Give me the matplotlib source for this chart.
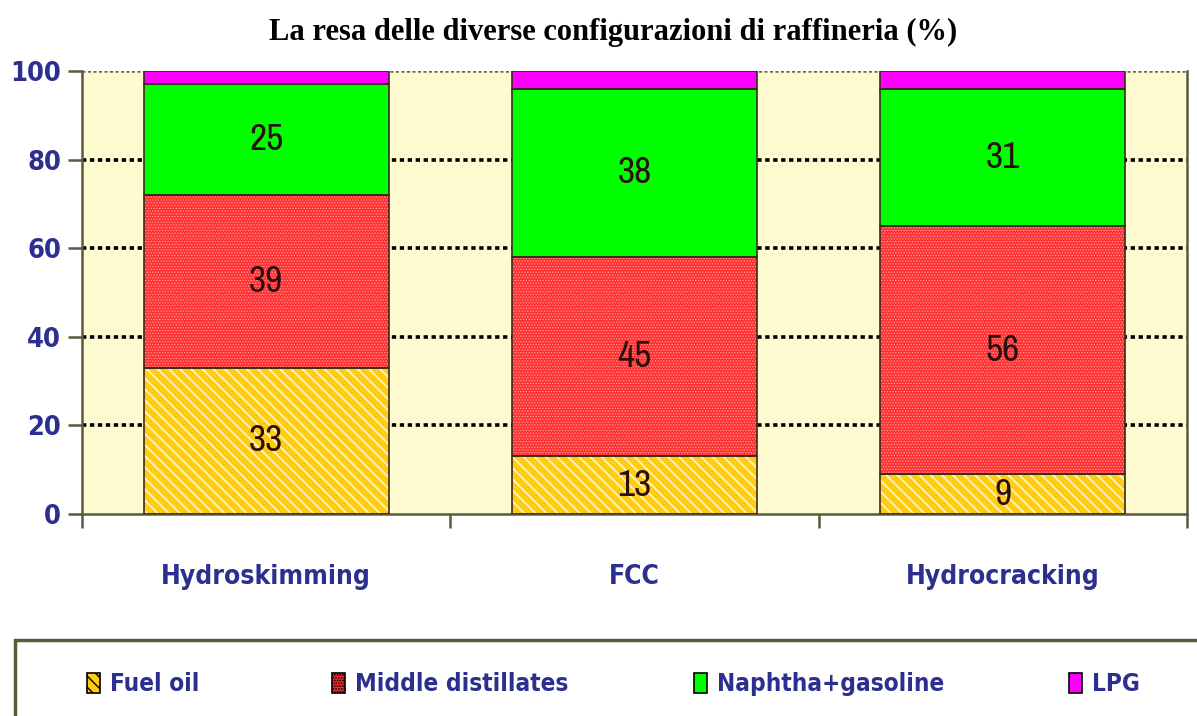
import numpy as np
import matplotlib
matplotlib.use("Agg")
import matplotlib.pyplot as plt
from matplotlib.patches import Patch, Rectangle

categories = ["Hydroskimming", "FCC", "Hydrocracking"]
series = ["Fuel oil", "Middle distillates", "Naphtha+gasoline", "LPG"]
fuel_oil = [33, 13, 9]
middle_dist = [39, 45, 56]
naphtha = [25, 38, 31]
lpg = [3, 4, 4]
yticks = [0, 20, 40, 60, 80, 100]

NAVY = "#2b2f8f"
EDGE = "#3a2a1a"
SPINE = "#5a5a3c"
FONT = dict(family="DejaVu Sans", fontstretch="condensed")

fig = plt.figure(figsize=(11.97, 7.16), dpi=100)
ax = fig.add_axes([0.0685, 0.2821, 0.9231, 0.6187])
ax.set_facecolor("#fffbd0")

x = np.arange(len(categories))
w = 0.666
values = [fuel_oil, middle_dist, naphtha, lpg]
faces = ["#ffcc10", "#ff3030", "#00ff00", "#ff00ff"]
hatches = ["\\\\\\", "......", None, None]
hatch_lw = [1.3, 0.6, 1.0, 1.0]
hatch_col = ["#fff4c8", "#ff9a9a", None, None]

bottom = np.zeros(len(categories))
for vals, fc, h, hl, hc in zip(values, faces, hatches, hatch_lw, hatch_col):
    vals = np.array(vals, dtype=float)
    bars = ax.bar(x, vals, w, bottom=bottom, color=fc, hatch=h,
                  edgecolor=hc if h else fc, linewidth=0, zorder=2)
    for p in bars:
        p.set_hatch_linewidth(hl)
    ax.bar(x, vals, w, bottom=bottom, facecolor="none",
           edgecolor=EDGE, linewidth=1.2, zorder=3)
    bottom += vals

# value labels (not for LPG)
bottom = np.zeros(len(categories))
for vals in values[:3]:
    vals = np.array(vals, dtype=float)
    for xi, b, v in zip(x, bottom, vals):
        ax.text(xi, b + v / 2, f"{int(v)}", ha="center", va="center",
                fontsize=27, color="#2a0f0f", zorder=4,
                family=["Archivo Narrow", "DejaVu Sans"])
    bottom += vals

ax.set_xlim(-0.5, 2.5)
ax.set_ylim(0, 100)
ax.set_yticks(yticks)
ax.set_yticklabels([str(t) for t in yticks], fontsize=19.5, fontweight="bold",
                   color=NAVY, **FONT)
ax.set_xticks(x)
ax.set_xticklabels(categories, fontsize=19, fontweight="bold", color=NAVY,
                   **FONT)
ax.set_xticks([-0.5, 0.5, 1.5, 2.5], minor=True)
ax.tick_params(axis="x", which="major", length=0, pad=36)
ax.tick_params(axis="x", which="minor", length=10, width=1.8, color=SPINE)
ax.tick_params(axis="y", length=10, width=1.8, color=SPINE, pad=5)

ax.set_axisbelow(True)
ax.yaxis.grid(True, color="black", linewidth=2.6, linestyle=(0, (1.2, 1.0)),
              zorder=1)
ax.get_ygridlines()[0].set_visible(False)
ax.get_ygridlines()[-1].set_color("#666655")
ax.get_ygridlines()[-1].set_linewidth(1.8)

for s in ["left", "bottom", "right"]:
    ax.spines[s].set_color(SPINE)
    ax.spines[s].set_linewidth(1.8)
ax.spines["top"].set_visible(False)

fig.text(0.512, 0.955, "La resa delle diverse configurazioni di raffineria (%)",
         ha="center", va="center", fontsize=22, fontweight="bold",
         family=["Liberation Serif", "DejaVu Serif"])

# legend box
fig.patches.append(Rectangle((15 / 1197, -0.05), 1.1, 1 - 640 / 716 + 0.05,
                             transform=fig.transFigure, facecolor="white",
                             edgecolor=SPINE, linewidth=2.5, zorder=0))
leg_x = [65 / 1197, 310 / 1197, 672 / 1197, 1047 / 1197]
for name, fc, h, hc, lx in zip(series, faces, hatches, hatch_col, leg_x):
    handle = Patch(facecolor=fc, edgecolor="black", hatch=h, linewidth=1.2)
    fig.legend([handle], [name], loc="center left",
               bbox_to_anchor=(lx, 1 - 684 / 716), frameon=False,
               handlelength=0.55, handleheight=0.9, handletextpad=0.4,
               prop={"family": "DejaVu Sans", "stretch": "condensed",
                     "size": 17.5, "weight": "bold"},
               labelcolor=NAVY)

fig.savefig("out.png", dpi=100)
